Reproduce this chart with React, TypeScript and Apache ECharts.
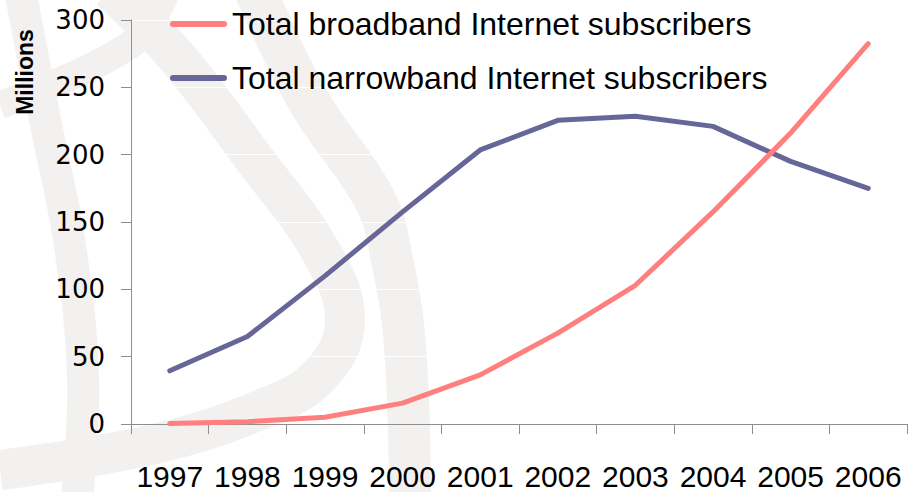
import React, { useEffect, useRef } from "react";
import * as echarts from "echarts";

const years = ["1997", "1998", "1999", "2000", "2001", "2002", "2003", "2004", "2005", "2006"];
const broadband = [0.3, 1.7, 5, 15.5, 36.5, 67.5, 103, 157.5, 216, 282.5];
const narrowband = [39.5, 65, 110, 157.5, 203.5, 225.5, 228.5, 221, 195, 175];
const seriesNames = ["Total broadband Internet subscribers", "Total narrowband Internet subscribers"];
const seriesColors = ["#ff7f7f", "#666699"];
const yTicks = { min: 0, max: 300, interval: 50 };

const WM = "#f2f1ef";

export default function App() {
  const ref = useRef<HTMLDivElement>(null);
  useEffect(() => {
    if (!ref.current) return;
    const chart = echarts.init(ref.current, null, { renderer: "svg" });
    const band = (points: number[][], w: number) => ({
      type: "polyline",
      silent: true,
      z: -10,
      shape: { points, smooth: 0.4 },
      style: { stroke: WM, lineWidth: w, fill: null, lineCap: "butt" },
    });
    chart.setOption({
      animation: false,
      backgroundColor: "#ffffff",
      graphic: [
        band([[20, -10], [45, 120], [70, 246], [83, 380], [77, 500]], 32),
        band([[110, -10], [175, 55], [255, 160], [320, 250], [345, 320], [320, 375], [260, 410], [150, 445], [0, 470]], 40),
        band([[255, -10], [308, 100], [375, 200], [392, 260], [405, 346], [410, 500]], 42),
        band([[0, 105], [130, 45], [165, -5]], 28),
        {
          type: "text",
          x: 25,
          y: 72,
          rotation: Math.PI / 2,
          style: {
            text: "Millions",
            fontFamily: "Liberation Sans, Arial, sans-serif",
            fontWeight: "bold",
            fontSize: 23,
            fill: "#000",
            align: "center",
            verticalAlign: "middle",
          },
        },
      ],
      legend: {
        orient: "vertical",
        left: 165,
        top: 3,
        itemWidth: 57,
        itemHeight: 6,
        itemGap: 22,
        icon: "path://M3,0 H54 A3,3 0 0 1 54,6 H3 A3,3 0 0 1 3,0 Z",
        textStyle: {
          fontFamily: "Liberation Sans, Arial, sans-serif",
          fontSize: 32,
          lineHeight: 32,
          color: "#000",
        },
        data: seriesNames,
      },
      grid: { left: 131, right: 3, top: 20, bottom: 68 },
      xAxis: {
        type: "category",
        data: years,
        boundaryGap: true,
        axisLine: { show: true, lineStyle: { color: "#8e8e8e", width: 1 } },
        axisTick: { show: true, length: 10, alignWithLabel: false, lineStyle: { color: "#8e8e8e" } },
        axisLabel: {
          margin: 37,
          fontFamily: "Liberation Sans, Arial, sans-serif",
          fontSize: 30,
          color: "#000",
          interval: 0,
        },
        splitLine: { show: false },
      },
      yAxis: {
        type: "value",
        min: yTicks.min,
        max: yTicks.max,
        interval: yTicks.interval,
        axisLine: { show: true, lineStyle: { color: "#8e8e8e", width: 1 } },
        axisTick: { show: true, length: 10, lineStyle: { color: "#8e8e8e" } },
        axisLabel: {
          margin: 26,
          fontFamily: "DejaVu Sans, sans-serif",
          fontSize: 26,
          color: "#000",
        },
        splitLine: { show: true, lineStyle: { color: "#ffffff", width: 1 } },
      },
      series: [
        {
          name: seriesNames[0],
          type: "line",
          data: broadband,
          symbol: "none",
          z: 3,
          color: seriesColors[0],
          lineStyle: { color: seriesColors[0], width: 5, cap: "round", join: "round" },
        },
        {
          name: seriesNames[1],
          type: "line",
          data: narrowband,
          symbol: "none",
          z: 2,
          color: seriesColors[1],
          lineStyle: { color: seriesColors[1], width: 5, cap: "round", join: "round" },
        },
      ],
    });
    return () => chart.dispose();
  }, []);
  return <div ref={ref} style={{ width: 910, height: 492, position: "absolute", left: 0, top: 0 }} />;
}
